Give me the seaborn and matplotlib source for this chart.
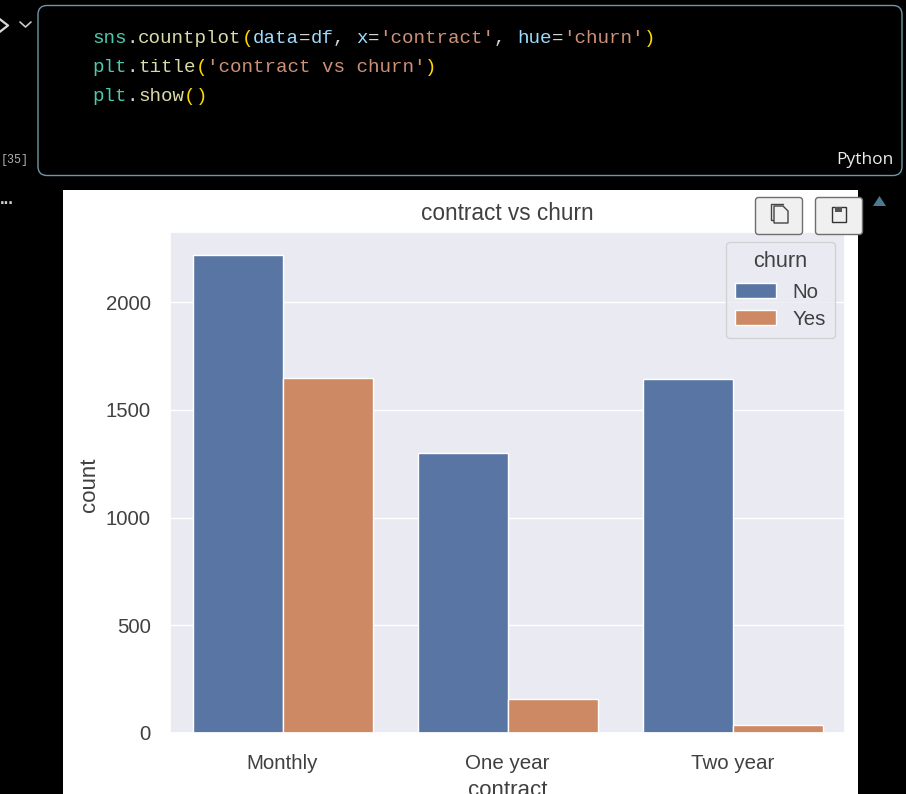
import numpy as np
import pandas as pd
import seaborn as sns
import matplotlib.pyplot as plt
from matplotlib.patches import FancyBboxPatch, Rectangle, Polygon

# valores
contracts = ["Monthly", "One year", "Two year"]
churn_levels = ["No", "Yes"]
count_no = [2218, 1299, 1643]
count_yes = [1647, 158, 37]

W, H = 906, 794
CHART_FONT = ["Liberation Sans", "DejaVu Sans"]
MONO = "Liberation Mono"
TEXT_COLOR = "#404040"

df = pd.DataFrame({
    "contract": np.repeat(contracts * 2, count_no + count_yes),
    "churn": np.repeat(churn_levels, [sum(count_no), sum(count_yes)]),
})

sns.set_theme(style="darkgrid")
plt.rcParams["font.family"] = CHART_FONT

fig = plt.figure(figsize=(W / 100, H / 100), dpi=100, facecolor="black")

# fondo de la celda del notebook, en pixeles
bg = fig.add_axes([0, 0, 1, 1], zorder=0)
bg.set_xlim(0, W)
bg.set_ylim(H, 0)
bg.axis("off")
bg.add_patch(Rectangle((63, 190), 795, 604, facecolor="white", edgecolor="none"))
bg.add_patch(FancyBboxPatch((38, 5.5), 864, 170, boxstyle="round,pad=0,rounding_size=9",
                            facecolor="black", edgecolor="#6f97a6", linewidth=1))

# codigo con colores por token
code_lines = [
    (43, [("sns", "#4ec9b0"), (".", "#d4d4d4"), ("countplot", "#dcdcaa"), ("(", "#ffd700"),
          ("data", "#9cdcfe"), ("=", "#d4d4d4"), ("df", "#9cdcfe"), (", ", "#d4d4d4"),
          ("x", "#9cdcfe"), ("=", "#d4d4d4"), ("'contract'", "#ce9178"), (", ", "#d4d4d4"),
          ("hue", "#9cdcfe"), ("=", "#d4d4d4"), ("'churn'", "#ce9178"), (")", "#ffd700")]),
    (72, [("plt", "#4ec9b0"), (".", "#d4d4d4"), ("title", "#dcdcaa"), ("(", "#ffd700"),
          ("'contract vs churn'", "#ce9178"), (")", "#ffd700")]),
    (101, [("plt", "#4ec9b0"), (".", "#d4d4d4"), ("show", "#dcdcaa"), ("(", "#ffd700"), (")", "#ffd700")]),
]
char_w = 11.49
for y, tokens in code_lines:
    x = 92
    for tok, col in tokens:
        bg.text(x, y, tok, color=col, family=MONO, fontsize=13.8, va="baseline", ha="left")
        x += len(tok) * char_w

bg.text(893, 160, "Python", color="#ececec", fontsize=12.5, va="center", ha="right", family="Open Sans")
bg.text(1, 160, "[35]", color="#b0b0b0", family=MONO, fontsize=8.4, va="center", ha="left")
bg.text(0, 200, "...", color="#d0d0d0", fontsize=12, va="center", ha="left", fontweight="bold")
bg.plot([-3, 8, -3], [17, 25.5, 34], color="#d8d8d8", linewidth=1.6)
bg.plot([20, 25.5, 31], [22, 27, 22], color="#c8c8c8", linewidth=1.2)
bg.add_patch(Polygon([[873, 206], [886, 206], [879.5, 196]], facecolor="#4a7b92", edgecolor="none"))

# grafico
ax = fig.add_axes([170 / W, 1 - 733 / H, 675 / W, 501 / H], zorder=1)
sns.countplot(data=df, x="contract", hue="churn", order=contracts, hue_order=churn_levels, ax=ax)
ax.set_title("contract vs churn", fontsize=16.3, color=TEXT_COLOR, pad=9)
ax.set_xlabel("contract", fontsize=16, color=TEXT_COLOR, labelpad=5)
ax.set_ylabel("count", fontsize=16, color=TEXT_COLOR, labelpad=4, y=0.496)
ax.tick_params(axis="x", labelsize=14.8, labelcolor=TEXT_COLOR, pad=9)
ax.tick_params(axis="y", labelsize=14.7, labelcolor=TEXT_COLOR, pad=8)
ax.set_ylim(0, 2325)
sns.move_legend(ax, "upper right", fontsize=14.7, title_fontsize=15.7, handlelength=2.0,
                handleheight=0.75, labelspacing=0.38, borderpad=0.45, labelcolor=TEXT_COLOR)
legend = ax.get_legend()
legend.get_title().set_color(TEXT_COLOR)
legend._legend_box.sep = 7.5  # mas aire entre titulo y filas

# botones encima del grafico
top = fig.add_axes([0, 0, 1, 1], zorder=2)
top.set_xlim(0, W)
top.set_ylim(H, 0)
top.axis("off")
top.patch.set_alpha(0)
for bx in (755.5, 815.5):
    top.add_patch(FancyBboxPatch((bx, 197.5), 47, 37, boxstyle="round,pad=0,rounding_size=3",
                                 facecolor="#f0f0f0", edgecolor="#6e6e6e", linewidth=1))
# icono copiar
top.plot([773, 771, 771, 783], [220, 220, 204, 204], color="#444444", linewidth=1)
top.add_patch(Polygon([[774, 206], [783, 206], [788, 211], [788, 223], [774, 223]],
                      facecolor="none", edgecolor="#444444", linewidth=1))
# icono guardar
top.add_patch(Rectangle((832, 207), 14, 15, facecolor="none", edgecolor="#333333", linewidth=1))
top.add_patch(Rectangle((835, 207), 7, 5, facecolor="#555555", edgecolor="none"))

fig.savefig("out.png", dpi=100, facecolor="black")
